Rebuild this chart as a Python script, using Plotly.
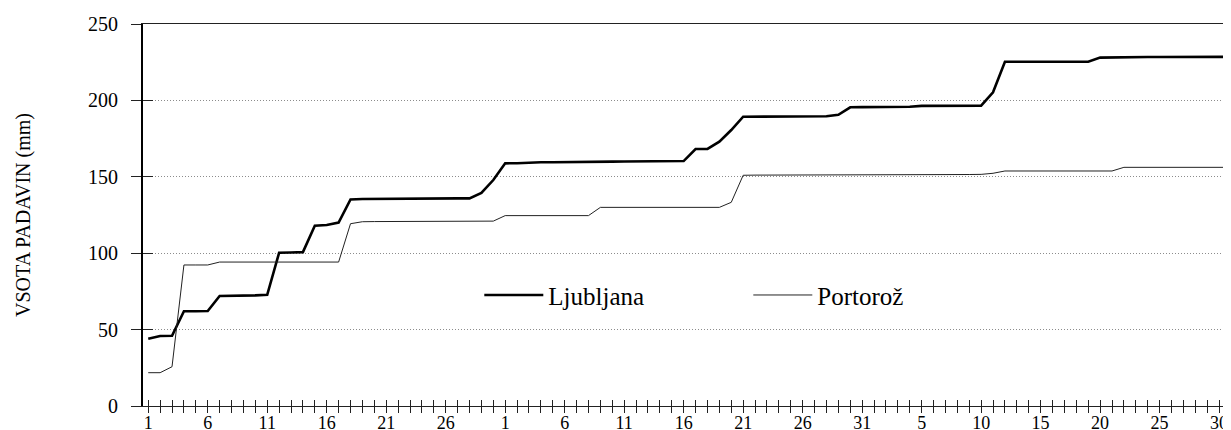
import plotly.graph_objects as go

# Day positions (0 = first day of the first month); labels every 5 days
tick_positions = list(range(0, 91, 5))
tick_labels = ["1", "6", "11", "16", "21", "26",
               "1", "6", "11", "16", "21", "26", "31",
               "5", "10", "15", "20", "25", "30"]
minor_positions = list(range(0, 91))

# Cumulative precipitation (mm)
ljubljana = [44.0, 45.8, 46.0, 62.0, 62.0, 62.2, 72.0, 72.0, 72.2, 72.4,
             72.8, 100.3, 100.5, 100.7, 118.0, 118.5, 120.0, 135.2, 135.5, 135.6,
             135.6, 135.7, 135.7, 135.8, 135.8, 135.8, 135.9, 135.9, 139.5, 147.9,
             158.8, 158.9, 159.3, 159.5, 159.5, 159.5, 159.6, 159.6, 159.7, 159.9,
             160.0, 160.0, 160.1, 160.1, 160.2, 160.3, 168.2, 168.3, 173.0, 180.6,
             189.3, 189.4, 189.5, 189.5, 189.5, 189.5, 189.5, 189.6, 190.6, 195.5,
             195.6, 195.7, 195.7, 195.7, 195.8, 196.4, 196.5, 196.5, 196.5, 196.5,
             196.6, 205.3, 225.3, 225.3, 225.3, 225.3, 225.3, 225.3, 225.3, 225.3,
             228.0, 228.2, 228.3, 228.3, 228.4, 228.4, 228.4, 228.5, 228.5, 228.5,
             228.5, 228.5]
portoroz = [21.8, 21.8, 25.7, 92.3, 92.3, 92.3, 94.2, 94.2, 94.2, 94.2,
            94.2, 94.2, 94.2, 94.2, 94.2, 94.2, 94.2, 119.3, 120.6, 120.7,
            120.7, 120.8, 120.8, 120.8, 120.8, 120.9, 120.9, 120.9, 121.0, 121.0,
            124.6, 124.6, 124.6, 124.6, 124.6, 124.6, 124.6, 124.6, 130.0, 130.0,
            130.0, 130.0, 130.0, 130.0, 130.0, 130.0, 130.0, 130.0, 130.0, 133.3,
            151.0, 151.1, 151.1, 151.2, 151.2, 151.2, 151.2, 151.3, 151.3, 151.3,
            151.3, 151.3, 151.4, 151.4, 151.4, 151.4, 151.5, 151.5, 151.5, 151.5,
            151.6, 152.3, 153.8, 153.8, 153.8, 153.8, 153.8, 153.8, 153.8, 153.8,
            153.8, 153.8, 156.2, 156.2, 156.2, 156.2, 156.2, 156.2, 156.2, 156.2,
            156.2, 156.2]

days = list(range(len(ljubljana)))
y_ticks = [0, 50, 100, 150, 200, 250]

FONT = "Liberation Serif"
x_range = [-0.44, 91.0]
y_range = [0, 250]

fig = go.Figure()
fig.add_trace(go.Scatter(x=days, y=ljubljana, mode="lines", name="Ljubljana",
                         line=dict(color="black", width=2.6),
                         xaxis="x", yaxis="y"))
fig.add_trace(go.Scatter(x=days, y=portoroz, mode="lines", name="Portorož",
                         line=dict(color="#222222", width=1),
                         xaxis="x2", yaxis="y2"))

fig.update_layout(
    width=1223, height=422,
    margin=dict(l=135, r=0, t=16, b=24, autoexpand=False),
    plot_bgcolor="white", paper_bgcolor="white",
    font=dict(family=FONT, color="black"),
    showlegend=True,
    legend=dict(orientation="h", x=0.3091, y=0.29, xanchor="left", yanchor="middle",
                font=dict(size=25, family=FONT), bgcolor="rgba(0,0,0,0)",
                entrywidth=195, itemwidth=59),
    # main x axis: labels + ticks inside
    xaxis=dict(range=x_range, tickmode="array", tickvals=minor_positions,
               ticktext=[tick_labels[tick_positions.index(p)] if p in tick_positions else ""
                         for p in minor_positions],
               ticks="inside", ticklen=6, tickwidth=1, tickcolor="#222",
               tickfont=dict(size=18, family=FONT), automargin=False,
               showline=True, linecolor="#222", linewidth=1, mirror=True,
               showgrid=False, zeroline=False),
    # overlay x axis: ticks outside (crossing tick marks)
    xaxis2=dict(range=x_range, overlaying="x", anchor="y2", tickmode="array",
                tickvals=minor_positions, ticks="outside", ticklen=6, tickwidth=1,
                tickcolor="#222", showticklabels=False, showline=False,
                showgrid=False, zeroline=False, automargin=False),
    yaxis=dict(range=y_range, tickmode="array", tickvals=y_ticks,
               ticks="outside", ticklen=10, tickwidth=1, tickcolor="#222",
               tickfont=dict(size=20, family=FONT), automargin=False,
               ticklabelstandoff=9,
               showline=True, linecolor="black", linewidth=2,
               showgrid=True, gridcolor="#8c8c8c", griddash="1px,2px", gridwidth=1,
               zeroline=False,
               title=dict(text="VSOTA PADAVIN (mm)", font=dict(size=20, family=FONT),
                          standoff=52)),
    yaxis2=dict(range=y_range, overlaying="y", anchor="x2", side="left",
                tickmode="array", tickvals=y_ticks, ticks="inside", ticklen=10,
                tickwidth=1, tickcolor="#222", showticklabels=False,
                showline=False, showgrid=False, zeroline=False, automargin=False),
)

fig.write_html("out.html")
